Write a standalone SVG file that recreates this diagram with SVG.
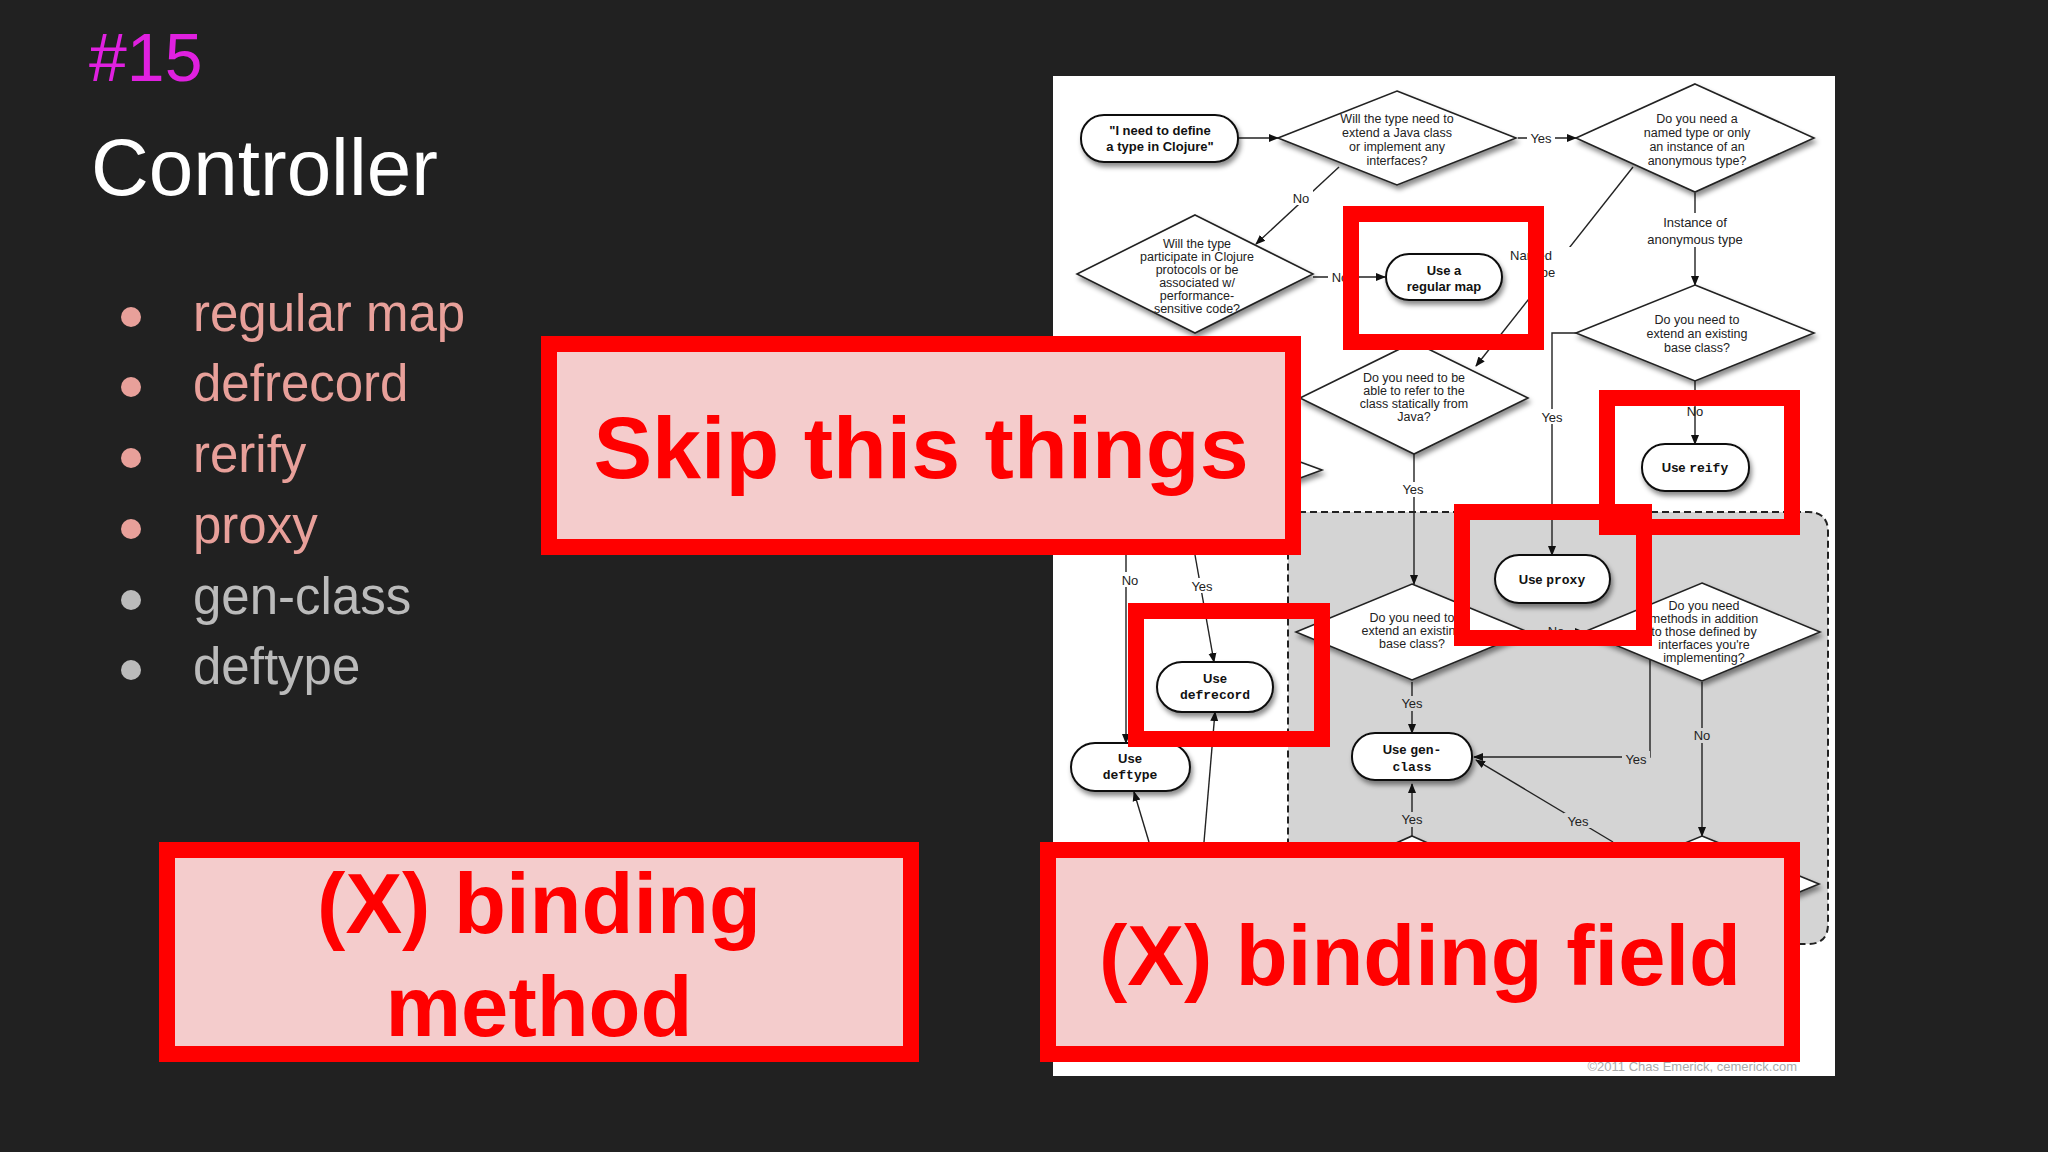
<svg xmlns="http://www.w3.org/2000/svg" width="2048" height="1152" viewBox="0 0 2048 1152">
<defs>
<marker id="ah" markerWidth="10" markerHeight="10" refX="9" refY="5" orient="auto" markerUnits="userSpaceOnUse"><path d="M0,1 L10,5 L0,9 Z" fill="#111"/></marker>
<filter id="sh" x="-20%" y="-20%" width="150%" height="160%"><feDropShadow dx="2" dy="4" stdDeviation="2.5" flood-color="#000" flood-opacity="0.45"/></filter>
<style>
.bul{font-family:"Liberation Sans",Arial,sans-serif;font-size:51px}
.term{fill:#fff;stroke:#111;stroke-width:2;filter:url(#sh)}
.dia{fill:#fff;stroke:#222;stroke-width:1.6;filter:url(#sh)}
.tt{font-family:"Liberation Sans",Arial,sans-serif;font-size:13px;font-weight:bold;fill:#111;text-anchor:middle}
.mono{font-family:"Liberation Mono",monospace;font-weight:bold}
.dt{font-family:"Liberation Sans",Arial,sans-serif;font-size:12.5px;fill:#222;text-anchor:middle}
.lbl{font-family:"Liberation Sans",Arial,sans-serif;font-size:13px;fill:#222;text-anchor:middle}
.ln{fill:none;stroke:#222;stroke-width:1.4;marker-end:url(#ah)}
.lno{fill:none;stroke:#222;stroke-width:1.4}
.rb{fill:none;stroke:#f00;stroke-width:16}
.rbf{fill:#f4cccc;stroke:#f00;stroke-width:16}
.big{font-family:"Liberation Sans",Arial,sans-serif;font-weight:bold;fill:#f00;text-anchor:middle}
</style>
</defs>
<rect width="2048" height="1152" fill="#212121"/>
<text x="89" y="81" font-family="Liberation Sans,Arial,sans-serif" font-size="68" fill="#e020e0">#15</text>
<text x="91" y="195" font-family="Liberation Sans,Arial,sans-serif" font-size="80" fill="#fff">Controller</text>
<g id="bullets">
<circle cx="131" cy="317" r="10" fill="#e8a09a"/><text class="bul" x="193" y="331" fill="#e8a09a">regular map</text>
<circle cx="131" cy="387" r="10" fill="#e8a09a"/><text class="bul" x="193" y="401" fill="#e8a09a">defrecord</text>
<circle cx="131" cy="458" r="10" fill="#e8a09a"/><text class="bul" x="193" y="472" fill="#e8a09a">rerify</text>
<circle cx="131" cy="529" r="10" fill="#e8a09a"/><text class="bul" x="193" y="543" fill="#e8a09a">proxy</text>
<circle cx="131" cy="600" r="10" fill="#bbb"/><text class="bul" x="193" y="614" fill="#bbb">gen-class</text>
<circle cx="131" cy="670" r="10" fill="#bbb"/><text class="bul" x="193" y="684" fill="#bbb">deftype</text>
</g>
<rect x="1053" y="76" width="782" height="1000" fill="#fff"/>
<path d="M1288,512 H1808 Q1828,512 1828,532 V924 Q1828,944 1808,944 H1288 Z" fill="#d4d4d4" stroke="#222" stroke-width="2" stroke-dasharray="7,4"/>
<g id="connectors">
<path class="ln" d="M1238,138 H1278"/>
<path class="ln" d="M1518,138 H1576"/>
<path class="ln" d="M1339,167 L1256,244"/>
<path class="ln" d="M1313,277 H1385"/>
<path class="ln" d="M1633,167 L1476,366"/>
<path class="ln" d="M1695,193 V285"/>
<path class="ln" d="M1695,381 V444"/>
<path class="ln" d="M1577,333 H1552 V555"/>
<path class="ln" d="M1414,454 V584"/>
<path class="lno" d="M1300,398 H1270"/>
<path class="ln" d="M1126,555 V743"/>
<path class="ln" d="M1195,555 L1214,662"/>
<path class="ln" d="M1412,682 V733"/>
<path class="ln" d="M1528,632 H1584"/>
<path class="ln" d="M1650,660 V757 H1474"/>
<path class="ln" d="M1702,682 V836"/>
<path class="ln" d="M1613,842 L1476,760"/>
<path class="ln" d="M1412,842 V784"/>
<path class="ln" d="M1204,842 L1215,712"/>
<path class="ln" d="M1149,842 L1134,792"/>
<rect x="1527" y="130" width="28" height="16" fill="#fff"/><text class="lbl" x="1541" y="143">Yes</text>
<rect x="1289" y="190" width="24" height="15" fill="#fff"/><text class="lbl" x="1301" y="203">No</text>
<rect x="1328" y="270" width="24" height="15" fill="#fff"/><text class="lbl" x="1340" y="282">No</text>
<rect x="1528" y="247" width="46" height="34" fill="#fff"/><text class="lbl" x="1531" y="260" text-anchor="start">Named</text><text class="lbl" x="1543" y="277" text-anchor="start">type</text>
<rect x="1640" y="213" width="110" height="34" fill="#fff"/><text class="lbl" x="1695" y="227">Instance of</text><text class="lbl" x="1695" y="244">anonymous type</text>
<text class="lbl" x="1695" y="416">No</text>
<rect x="1539" y="409" width="28" height="15" fill="#fff"/><text class="lbl" x="1552" y="422">Yes</text>
<rect x="1400" y="482" width="28" height="15" fill="#fff"/><text class="lbl" x="1413" y="494">Yes</text>
<rect x="1117" y="572" width="22" height="15" fill="#fff"/><text class="lbl" x="1130" y="585">No</text>
<rect x="1189" y="578" width="26" height="15" fill="#fff"/><text class="lbl" x="1202" y="591">Yes</text>
<rect x="1399" y="696" width="28" height="15" fill="#d4d4d4"/><text class="lbl" x="1412" y="708">Yes</text>
<rect x="1622" y="751" width="28" height="15" fill="#d4d4d4"/><text class="lbl" x="1636" y="764">Yes</text>
<rect x="1690" y="728" width="24" height="15" fill="#d4d4d4"/><text class="lbl" x="1702" y="740">No</text>
<rect x="1564" y="813" width="28" height="15" fill="#d4d4d4"/><text class="lbl" x="1578" y="826">Yes</text>
<rect x="1399" y="812" width="28" height="15" fill="#d4d4d4"/><text class="lbl" x="1412" y="824">Yes</text>
<text class="lbl" x="1556" y="636">No</text>
</g>
<g id="start"><rect class="term" x="1081" y="115" width="157" height="47" rx="23"/><text class="tt" x="1160" y="135">"I need to define</text><text class="tt" x="1160" y="151">a type in Clojure"</text></g>
<g id="d1"><path class="dia" d="M1397,91 L1516,138 L1397,185 L1278,138 Z"/><text class="dt" x="1397" y="123">Will the type need to</text><text class="dt" x="1397" y="137">extend a Java class</text><text class="dt" x="1397" y="151">or implement any</text><text class="dt" x="1397" y="165">interfaces?</text></g>
<g id="d2"><path class="dia" d="M1695,84 L1814,138 L1695,192 L1576,138 Z"/><text class="dt" x="1697" y="123">Do you need a</text><text class="dt" x="1697" y="137">named type or only</text><text class="dt" x="1697" y="151">an instance of an</text><text class="dt" x="1697" y="165">anonymous type?</text></g>
<g id="d3"><path class="dia" d="M1195,215 L1313,274 L1195,333 L1077,274 Z"/><text class="dt" x="1197" y="248">Will the type</text><text class="dt" x="1197" y="261">participate in Clojure</text><text class="dt" x="1197" y="274">protocols or be</text><text class="dt" x="1197" y="287">associated w/</text><text class="dt" x="1197" y="300">performance-</text><text class="dt" x="1197" y="313">sensitive code?</text></g>
<g id="regmap"><rect class="term" x="1386" y="254" width="116" height="46" rx="23"/><text class="tt" x="1444" y="275">Use a</text><text class="tt" x="1444" y="291">regular map</text></g>
<g id="d4"><path class="dia" d="M1695,285 L1814,333 L1695,381 L1576,333 Z"/><text class="dt" x="1697" y="324">Do you need to</text><text class="dt" x="1697" y="338">extend an existing</text><text class="dt" x="1697" y="352">base class?</text></g>
<g id="d5"><path class="dia" d="M1414,342 L1528,398 L1414,454 L1300,398 Z"/><text class="dt" x="1414" y="382">Do you need to be</text><text class="dt" x="1414" y="395">able to refer to the</text><text class="dt" x="1414" y="408">class statically from</text><text class="dt" x="1414" y="421">Java?</text></g>
<g id="dleft"><path class="dia" d="M1240,440 L1322,470 L1240,500 L1158,470 Z"/></g>
<g id="reify"><rect class="term" x="1642" y="444" width="107" height="47" rx="23"/><text class="tt" x="1695" y="472">Use <tspan class="mono">reify</tspan></text></g>
<g id="proxy"><rect class="term" x="1495" y="555" width="115" height="48" rx="24"/><text class="tt" x="1552" y="584">Use <tspan class="mono">proxy</tspan></text></g>
<g id="d6"><path class="dia" d="M1412,584 L1528,632 L1412,680 L1296,632 Z"/><text class="dt" x="1412" y="622">Do you need to</text><text class="dt" x="1412" y="635">extend an existing</text><text class="dt" x="1412" y="648">base class?</text></g>
<g id="d7"><path class="dia" d="M1702,583 L1820,632 L1702,681 L1584,632 Z"/><text class="dt" x="1704" y="610">Do you need</text><text class="dt" x="1704" y="623">methods in addition</text><text class="dt" x="1704" y="636">to those defined by</text><text class="dt" x="1704" y="649">interfaces you're</text><text class="dt" x="1704" y="662">implementing?</text></g>
<g id="genclass"><rect class="term" x="1352" y="733" width="120" height="47" rx="23"/><text class="tt" x="1412" y="754">Use <tspan class="mono">gen-</tspan></text><text class="tt mono" x="1412" y="771">class</text></g>
<g id="defrecord"><rect class="term" x="1157" y="662" width="116" height="50" rx="25"/><text class="tt" x="1215" y="683">Use</text><text class="tt mono" x="1215" y="699">defrecord</text></g>
<g id="deftype"><rect class="term" x="1071" y="743" width="119" height="48" rx="24"/><text class="tt" x="1130" y="763">Use</text><text class="tt mono" x="1130" y="779">deftype</text></g>
<g id="dbottom"><path class="dia" d="M1412,836 L1520,884 L1412,932 L1304,884 Z"/><path class="dia" d="M1702,836 L1819,884 L1702,932 L1585,884 Z"/></g>
<text x="1797" y="1071" font-family="Liberation Sans,Arial,sans-serif" font-size="13" fill="#aaa" text-anchor="end">©2011 Chas Emerick, cemerick.com</text>
<g id="redmarks">
<rect class="rb" x="1351" y="214" width="185" height="128"/>
<rect class="rb" x="1607" y="398" width="185" height="129"/>
<rect class="rb" x="1462" y="512" width="182" height="126"/>
<rect class="rb" x="1136" y="611" width="186" height="128"/>
</g>
<g id="skip"><rect class="rbf" x="549" y="344" width="744" height="203"/><text class="big" x="921" y="478" font-size="88">Skip this things</text></g>
<g id="bmethod"><rect class="rbf" x="167" y="850" width="744" height="204"/><text class="big" x="539" y="933" font-size="85">(X) binding</text><text class="big" x="539" y="1036" font-size="85">method</text></g>
<g id="bfield"><rect class="rbf" x="1048" y="850" width="744" height="204"/><text class="big" x="1420" y="985" font-size="85">(X) binding field</text></g>
</svg>
